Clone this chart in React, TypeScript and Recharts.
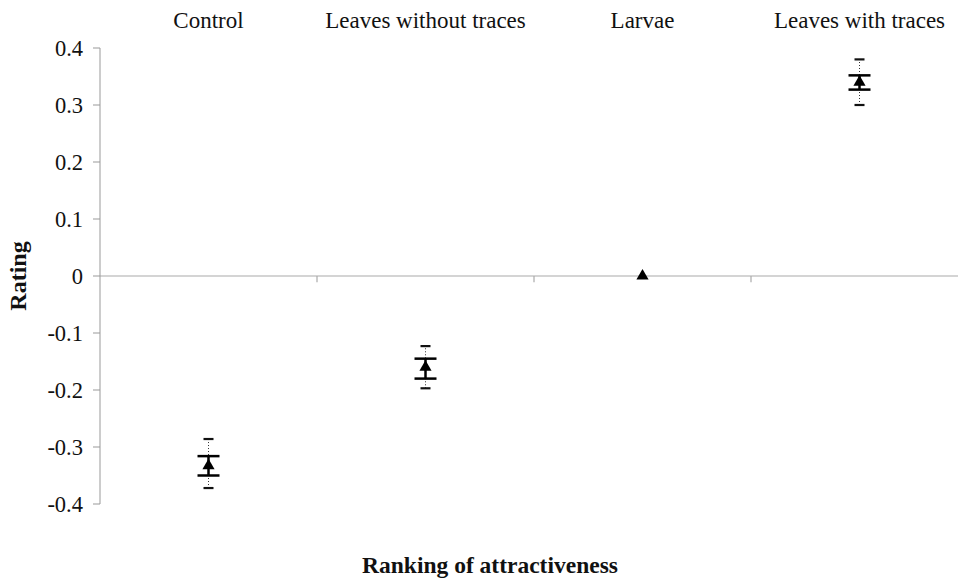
import React from 'react';
import { ScatterChart, Scatter, XAxis, YAxis, ErrorBar, ReferenceLine } from 'recharts';

const categories = ['Control', 'Leaves without traces', 'Larvae', 'Leaves with traces'];
const means = [-0.333, -0.16, 0, 0.34];
// thick bars (standard error)
const seLow = [-0.35, -0.18, null, 0.327];
const seHigh = [-0.316, -0.145, null, 0.352];
// dotted bars (range)
const rangeLow = [-0.372, -0.197, null, 0.3];
const rangeHigh = [-0.286, -0.123, null, 0.38];
const yTicks = [-0.4, -0.3, -0.2, -0.1, 0, 0.1, 0.2, 0.3, 0.4];
const boundaries = [1, 2, 3];

const FONT = '"Liberation Serif", "Times New Roman", serif';

const points = categories.map((name, i) => ({
  x: i + 0.5,
  y: means[i],
  se: seLow[i] == null ? null : [means[i] - (seLow[i] as number), (seHigh[i] as number) - means[i]],
  range: rangeLow[i] == null ? null : [means[i] - (rangeLow[i] as number), (rangeHigh[i] as number) - means[i]],
}));

const caps = categories.flatMap((_, i) =>
  rangeLow[i] == null ? [] : [{ x: i + 0.5, y: rangeLow[i] }, { x: i + 0.5, y: rangeHigh[i] }]
);

const CapLine = (props: any) => {
  const { cx, cy } = props;
  return <line x1={cx - 5} x2={cx + 5} y1={cy} y2={cy} stroke="#111" strokeWidth={2.2} />;
};

const CategoryTick = (props: any) => {
  const { x, y, payload } = props;
  return (
    <text x={x} y={y} textAnchor="middle" fontSize={23} fill="#111" style={{ fontFamily: FONT }}>
      {categories[Math.floor(payload.value)]}
    </text>
  );
};

const RatingTick = (props: any) => {
  const { x, y, payload } = props;
  return (
    <text x={x} y={y} dy="0.35em" textAnchor="end" fontSize={22.5} fill="#111" style={{ fontFamily: FONT }}>
      {String(payload.value)}
    </text>
  );
};

const App = () => {
  return (
    <div style={{ position: 'absolute', left: 0, top: 0, width: 958, height: 587, overflow: 'hidden', background: '#fff', fontFamily: FONT }}>
      <ScatterChart width={968} height={587} margin={{ top: 0, right: 0, bottom: 83, left: 0 }}>
        <XAxis
          type="number"
          dataKey="x"
          orientation="top"
          domain={[0, 4]}
          ticks={[0.5, 1.5, 2.5, 3.5]}
          height={48}
          axisLine={false}
          tickLine={false}
          tickSize={0}
          tickMargin={20}
          interval={0}
          tick={CategoryTick}
        />
        <YAxis
          type="number"
          dataKey="y"
          domain={[-0.4, 0.4]}
          ticks={yTicks}
          width={100}
          stroke="#999"
          tickSize={7}
          tickMargin={10}
          interval={0}
          tick={RatingTick}
        />
        <ReferenceLine y={0} stroke="#aaa" strokeWidth={1.2} />
        {boundaries.map((b) => (
          <ReferenceLine key={b} segment={[{ x: b, y: 0 }, { x: b, y: -0.011 }]} stroke="#aaa" strokeWidth={1.2} />
        ))}
        <Scatter data={caps} shape={CapLine} isAnimationActive={false} />
        <Scatter data={points} shape="triangle" fill="#000" isAnimationActive={false}>
          <ErrorBar dataKey="range" direction="y" width={0} stroke="#333" strokeWidth={1} strokeDasharray="1 2" />
          <ErrorBar dataKey="se" direction="y" width={11} stroke="#000" strokeWidth={2.5} />
        </Scatter>
      </ScatterChart>
      <div style={{ position: 'absolute', left: 18, top: 276, transform: 'translate(-50%, -50%) rotate(-90deg)', fontWeight: 'bold', fontSize: 24, color: '#111', whiteSpace: 'nowrap' }}>
        Rating
      </div>
      <div style={{ position: 'absolute', left: 490, top: 565, transform: 'translate(-50%, -50%)', fontWeight: 'bold', fontSize: 23.5, color: '#111', whiteSpace: 'nowrap' }}>
        Ranking of attractiveness
      </div>
    </div>
  );
};

export default App;
